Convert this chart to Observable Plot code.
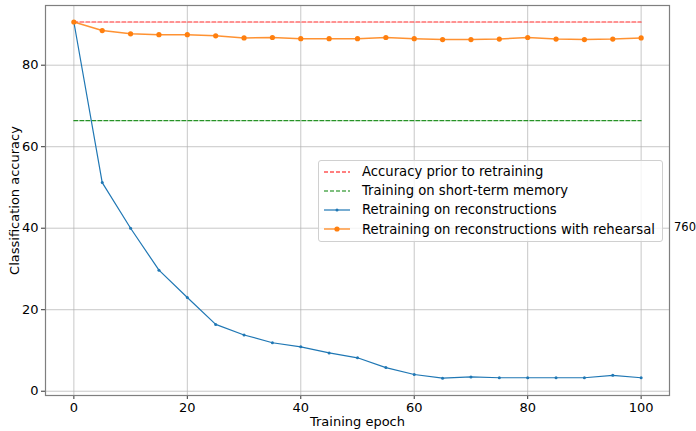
<!DOCTYPE html>
<html><head><meta charset="utf-8">
<script src="https://cdn.jsdelivr.net/npm/d3@7"></script>
<script src="https://cdn.jsdelivr.net/npm/@observablehq/plot@0.6"></script>
<style>
body{margin:0;background:#fff;}
#wrap{position:relative;width:696px;height:431px;font-family:"DejaVu Sans",sans-serif;color:#000;}
.legend{position:absolute;left:318px;top:160px;width:345px;height:82px;border:1px solid #d0d0d0;border-radius:3px;background:rgba(255,255,255,0.8);box-sizing:border-box;}
.row{position:absolute;left:0;height:19px;display:flex;align-items:center;font-size:13.2px;white-space:nowrap;}
.row svg{margin-left:4px;margin-right:11px;}
.side{position:absolute;left:674px;top:220px;font-size:11.5px;}
</style></head><body><div id="wrap"></div>
<script>
const epochs = [0,5,10,15,20,25,30,35,40,45,50,55,60,65,70,75,80,85,90,95,100];
const reconstructions = [90.6,51.2,40.0,29.7,23.0,16.4,13.8,11.9,10.9,9.4,8.2,5.8,4.1,3.2,3.5,3.3,3.3,3.3,3.3,3.9,3.3];
const rehearsal = [90.6,88.5,87.7,87.5,87.5,87.2,86.7,86.8,86.5,86.5,86.5,86.8,86.5,86.3,86.3,86.4,86.8,86.4,86.3,86.4,86.7];
const priorAccuracy = 90.6;
const shortTermMemory = 66.4;
const xTicks = [0,20,40,60,80,100];
const yTicks = [0,20,40,60,80];
const seriesNames = ["Accuracy prior to retraining","Training on short-term memory","Retraining on reconstructions","Retraining on reconstructions with rehearsal"];
const colors = ["#ff0000","#008000","#1f77b4","#ff7f0e"];
const sideLabel = "760";

const blueData = epochs.map((e,i)=>({x:e,y:reconstructions[i]}));
const orangeData = epochs.map((e,i)=>({x:e,y:rehearsal[i]}));
const xEnds = [epochs[0], epochs[epochs.length-1]];
const redData = xEnds.map(x=>({x,y:priorAccuracy}));
const greenData = xEnds.map(x=>({x,y:shortTermMemory}));

const plot = Plot.plot({
  width:696, height:431,
  marginLeft:45, marginRight:27, marginTop:5, marginBottom:36,
  style:{fontFamily:'"DejaVu Sans", sans-serif', fontSize:"13px", color:"#000", background:"#fff", overflow:"visible"},
  x:{domain:[-5,105]},
  y:{domain:[-1.05,94.65]},
  marks:[
    Plot.gridX(xTicks,{stroke:"#b0b0b0", strokeOpacity:0.7, strokeWidth:1}),
    Plot.gridY(yTicks,{stroke:"#b0b0b0", strokeOpacity:0.7, strokeWidth:1}),
    Plot.axisX(xTicks,{tickSize:4, tickPadding:3, stroke:"#333", fontSize:13, label:"Training epoch", labelAnchor:"center", labelArrow:"none", labelOffset:30}),
    Plot.axisY(yTicks,{tickSize:4, tickPadding:3, stroke:"#333", fontSize:13, label:"Classification accuracy", labelAnchor:"center", labelArrow:"none", labelOffset:36}),
    Plot.line(redData,{x:"x",y:"y",stroke:colors[0],strokeWidth:1.2,strokeDasharray:"4,2",strokeOpacity:0.85}),
    Plot.line(greenData,{x:"x",y:"y",stroke:colors[1],strokeWidth:1.2,strokeDasharray:"4,2",strokeOpacity:0.85}),
    Plot.line(blueData,{x:"x",y:"y",stroke:colors[2],strokeWidth:1.2}),
    Plot.dot(blueData,{x:"x",y:"y",fill:colors[2],r:1.5}),
    Plot.line(orangeData,{x:"x",y:"y",stroke:colors[3],strokeWidth:1.5,strokeOpacity:0.85}),
    Plot.dot(orangeData,{x:"x",y:"y",fill:colors[3],r:2.6}),
    Plot.frame({stroke:"#7f7f7f", strokeWidth:1.2})
  ]
});
const wrap = document.getElementById("wrap");
wrap.appendChild(plot);

const legend = document.createElement("div");
legend.className = "legend";
seriesNames.forEach((name,i)=>{
  const row = document.createElement("div");
  row.className = "row";
  row.style.top = (1 + i*19.2) + "px";
  const dashed = i < 2;
  let sw = `<svg width="28" height="10"><line x1="1" x2="27" y1="5" y2="5" stroke="${colors[i]}" stroke-width="1.2" ${dashed?'stroke-dasharray="4,2"':''}/>`;
  if (i===2) sw += `<circle cx="14" cy="5" r="1.5" fill="${colors[i]}"/>`;
  if (i===3) sw += `<circle cx="14" cy="5" r="2.6" fill="${colors[i]}"/>`;
  sw += `</svg>`;
  row.innerHTML = sw + `<span>${name}</span>`;
  legend.appendChild(row);
});
wrap.appendChild(legend);
const side = document.createElement("div");
side.className = "side";
side.textContent = sideLabel;
wrap.appendChild(side);
</script>
</body></html>
